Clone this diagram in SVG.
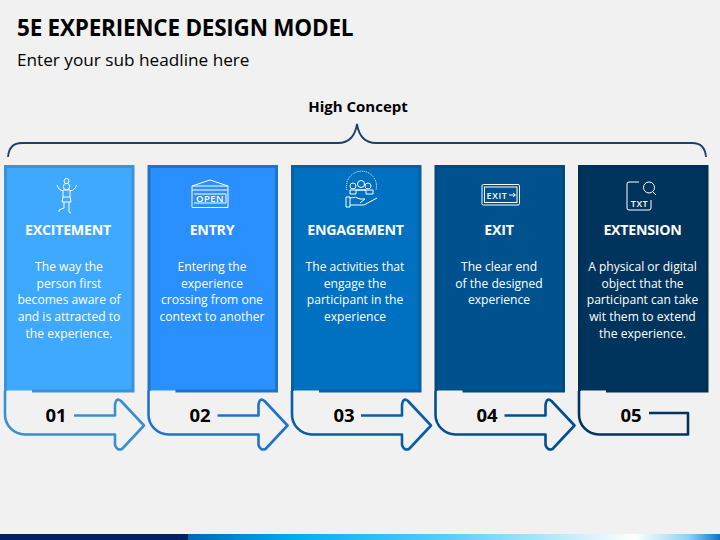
<svg xmlns="http://www.w3.org/2000/svg" width="720" height="540" viewBox="0 0 720 540">
<style>
text{font-family:"Open Sans","Noto Sans","Liberation Sans",sans-serif}
.h{font-size:14.2px;font-weight:700;fill:#fff;text-anchor:middle;letter-spacing:-.25px}
.b{font-size:12.1px;fill:#fff;text-anchor:middle}
.n{font-size:18.5px;font-weight:700;fill:#000;text-anchor:middle}
.o{fill:none;stroke-width:2.6;stroke-linejoin:round}
.i{fill:none;stroke:#fff;stroke-width:1}
.t{fill:#fff;text-anchor:middle;font-weight:600}
</style>
<defs>
<linearGradient id="bar" x1="0" x2="1" y1="0" y2="0">
<stop offset="0" stop-color="#0067b5"/><stop offset=".2" stop-color="#00aeef"/><stop offset=".5" stop-color="#5fcdf8"/><stop offset=".84" stop-color="#ffffff"/><stop offset=".94" stop-color="#8fd4f5"/><stop offset="1" stop-color="#0a78c2"/>
</linearGradient>
<path id="flow" d="M0 0V23A20 20 0 0 0 20 43.500H110V54Q112 60 117 58L139 34.500L116 10Q111 6 110 14V24.500H69"/>
</defs>
<rect width="720" height="540" fill="#f1f1f1"/>
<rect y="534" width="188" height="6" fill="#002060"/>
<rect x="188" y="534" width="532" height="6" fill="url(#bar)"/>
<text x="17" y="36" font-size="22.5" font-weight="700" fill="#000" letter-spacing="-.23">5E EXPERIENCE DESIGN MODEL</text>
<text x="17" y="65.500" font-size="17.200" fill="#000">Enter your sub headline here</text>
<text x="358" y="112" font-size="15" font-weight="700" fill="#000" text-anchor="middle">High Concept</text>
<g id="connectors">
<path d="M8 157Q9 143 22 143H338Q354 143 357 124Q360 143 376 143H692Q705 143 706 157" fill="none" stroke="#1f3f66" stroke-width="1.800"/>
<use href="#flow" x="5" y="391" class="o" stroke="#3a8fd0"/>
<use href="#flow" x="148.500" y="391" class="o" stroke="#1f74c9"/>
<use href="#flow" x="292" y="391" class="o" stroke="#0a5ea6"/>
<use href="#flow" x="435.500" y="391" class="o" stroke="#00508f"/>
<path d="M579 391V414A20 20 0 0 0 599 434.500H688V413H649" class="o" stroke="#00355f"/>
</g>
<g id="node-1">
<rect x="5.500" y="166.500" width="127.500" height="224" fill="#3fa9ff"/>
<path d="M5.500 391V166.500H133V391H32" fill="none" stroke="#3a93d6" stroke-width="3"/>
<g class="i"><circle cx="66.500" cy="181" r="2.500"/><circle cx="66.500" cy="186.500" r="3.200"/><path d="M57 185Q58 190 63 191M76.500 185Q75.500 190 70 191M63 190H70V197H63ZM63 197L62 202H71L70 197M64 202V208L59 210V212M69 202V212L71 213"/></g>
<text class="h" x="68" y="235">EXCITEMENT</text>
<text class="b" x="69" y="271">The way the</text><text class="b" x="69" y="288">person first</text><text class="b" x="69" y="304">becomes aware of</text><text class="b" x="69" y="321">and is attracted to</text><text class="b" x="69" y="338">the experience.</text>
<text class="n" x="56" y="421.500">01</text>
</g>
<g id="node-2">
<rect x="149" y="166.500" width="127.500" height="224" fill="#2a8fff"/>
<path d="M149 391V166.500H276.500V391H175.500" fill="none" stroke="#1f74c9" stroke-width="3"/>
<g class="i"><path d="M192 186H228V207.500H192ZM192 190H228M194 194H226V203H194M192 186L210 180L228 186"/></g>
<text class="t" x="210" y="201.500" font-size="9.500" letter-spacing=".5">OPEN</text>
<text class="h" x="212" y="235">ENTRY</text>
<text class="b" x="212" y="271">Entering the</text><text class="b" x="212" y="288">experience</text><text class="b" x="212" y="304">crossing from one</text><text class="b" x="212" y="321">context to another</text>
<text class="n" x="200" y="421.500">02</text>
</g>
<g id="node-3">
<rect x="292.500" y="166.500" width="127.500" height="224" fill="#0070c0"/>
<path d="M292.500 391V166.500H420V391H319" fill="none" stroke="#0a5ea6" stroke-width="3"/>
<g class="i"><path d="M347 190A15 15 0 1 1 376 190" stroke-dasharray="1 1"/><circle cx="353" cy="186" r="3"/><circle cx="361" cy="184" r="3.500"/><circle cx="368" cy="186" r="3"/><path d="M350 194H356V190H366V194H373V190H350ZM346 197H350V207H346ZM350 198Q356 196 360 199H365L360 203M350 205H364L377 198"/></g>
<text class="h" x="355.500" y="235">ENGAGEMENT</text>
<text class="b" x="355" y="271">The activities that</text><text class="b" x="355" y="288">engage the</text><text class="b" x="355" y="304">participant in the</text><text class="b" x="355" y="321">experience</text>
<text class="n" x="344" y="421.500">03</text>
</g>
<g id="node-4">
<rect x="436" y="166.500" width="127.500" height="224" fill="#00528f"/>
<path d="M436 391V166.500H563.500V391H462.500" fill="none" stroke="#004a80" stroke-width="3"/>
<g class="i"><rect x="482" y="184.500" width="37.500" height="20.500" rx="1.500"/><rect x="484.500" y="187" width="32.500" height="15.500"/></g>
<text class="t" x="497" y="199" font-size="9" letter-spacing=".6">EXIT</text>
<path d="M509 195H515M513 193L515.500 195L513 197" class="i"/>
<text class="h" x="499" y="235">EXIT</text>
<text class="b" x="499" y="271">The clear end</text><text class="b" x="499" y="288">of the designed</text><text class="b" x="499" y="304">experience</text>
<text class="n" x="487" y="421.500">04</text>
</g>
<g id="node-5">
<rect x="579.500" y="166.500" width="127.500" height="224" fill="#00345c"/>
<path d="M579.500 391V166.500H707V391H606" fill="none" stroke="#002f54" stroke-width="3"/>
<g class="i"><path d="M639 182H629Q627 182 627 184V208Q627 210 629 210H649Q651 210 651 208V200"/><circle cx="649" cy="187.500" r="5.500"/><path d="M653 192L656 195"/></g>
<text class="t" x="639.500" y="207" font-size="9" letter-spacing=".6">TXT</text>
<text class="h" x="642.500" y="235">EXTENSION</text>
<text class="b" x="642.500" y="271">A physical or digital</text><text class="b" x="642.500" y="288">object that the</text><text class="b" x="642.500" y="304">participant can take</text><text class="b" x="642.500" y="321">wit them to extend</text><text class="b" x="642.500" y="338">the experience.</text>
<text class="n" x="631" y="421.500">05</text>
</g>
</svg>
